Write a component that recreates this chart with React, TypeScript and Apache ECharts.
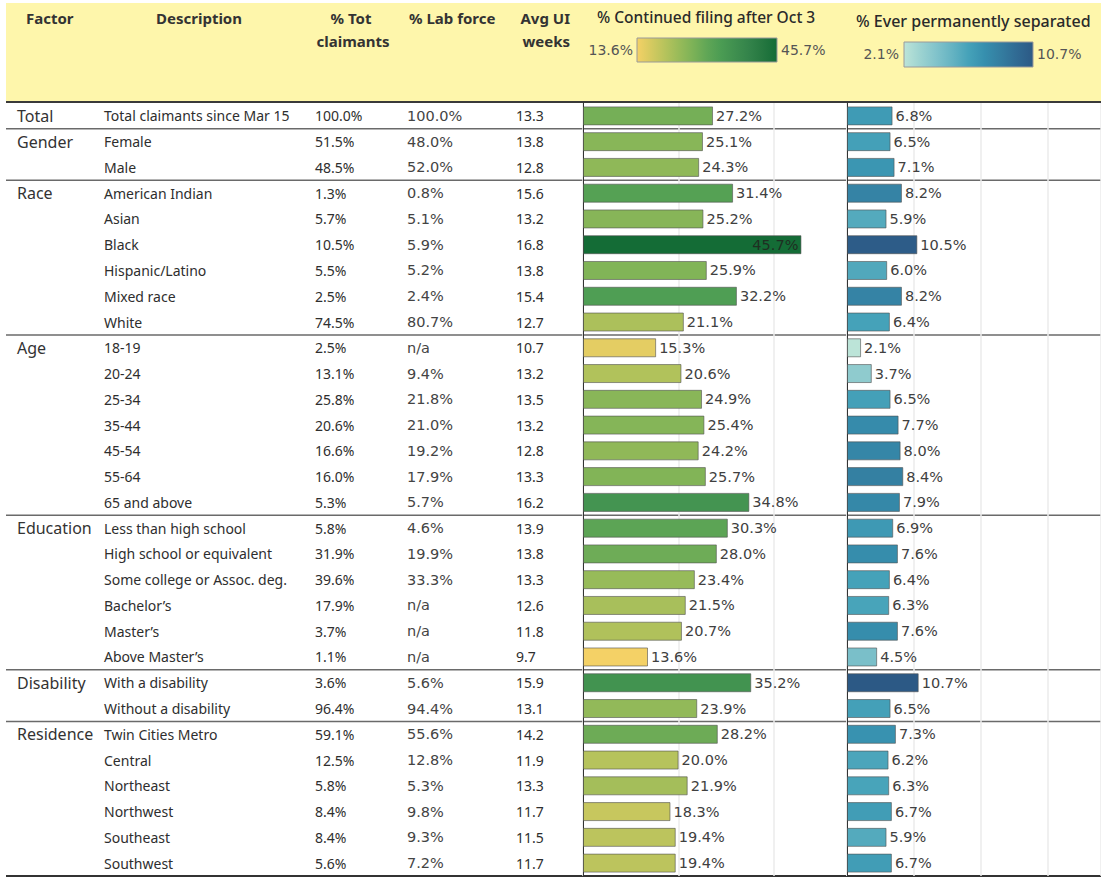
import React, { useEffect, useRef } from "react";
import * as echarts from "echarts";

const factors = ["Total", "Gender", "Race", "Age", "Education", "Disability", "Residence"];
const groupSizes = [1, 2, 6, 7, 6, 2, 6];
const descriptions = [
  "Total claimants since Mar 15",
  "Female", "Male",
  "American Indian", "Asian", "Black", "Hispanic/Latino", "Mixed race", "White",
  "18-19", "20-24", "25-34", "35-44", "45-54", "55-64", "65 and above",
  "Less than high school", "High school or equivalent", "Some college or Assoc. deg.", "Bachelor\u2019s", "Master\u2019s", "Above Master\u2019s",
  "With a disability", "Without a disability",
  "Twin Cities Metro", "Central", "Northeast", "Northwest", "Southeast", "Southwest",
];
const totClaimants = [100.0, 51.5, 48.5, 1.3, 5.7, 10.5, 5.5, 2.5, 74.5, 2.5, 13.1, 25.8, 20.6, 16.6, 16.0, 5.3, 5.8, 31.9, 39.6, 17.9, 3.7, 1.1, 3.6, 96.4, 59.1, 12.5, 5.8, 8.4, 8.4, 5.6];
const labForce = [100.0, 48.0, 52.0, 0.8, 5.1, 5.9, 5.2, 2.4, 80.7, null, 9.4, 21.8, 21.0, 19.2, 17.9, 5.7, 4.6, 19.9, 33.3, null, null, null, 5.6, 94.4, 55.6, 12.8, 5.3, 9.8, 9.3, 7.2];
const avgWeeks = [13.3, 13.8, 12.8, 15.6, 13.2, 16.8, 13.8, 15.4, 12.7, 10.7, 13.2, 13.5, 13.2, 12.8, 13.3, 16.2, 13.9, 13.8, 13.3, 12.6, 11.8, 9.7, 15.9, 13.1, 14.2, 11.9, 13.3, 11.7, 11.5, 11.7];
const continuedFiling = [27.2, 25.1, 24.3, 31.4, 25.2, 45.7, 25.9, 32.2, 21.1, 15.3, 20.6, 24.9, 25.4, 24.2, 25.7, 34.8, 30.3, 28.0, 23.4, 21.5, 20.7, 13.6, 35.2, 23.9, 28.2, 20.0, 21.9, 18.3, 19.4, 19.4];
const everSeparated = [6.8, 6.5, 7.1, 8.2, 5.9, 10.5, 6.0, 8.2, 6.4, 2.1, 3.7, 6.5, 7.7, 8.0, 8.4, 7.9, 6.9, 7.6, 6.4, 6.3, 7.6, 4.5, 10.7, 6.5, 7.3, 6.2, 6.3, 6.7, 5.9, 6.7];

const greenGold = ["#f4d166", "#d5ca60", "#b6c35c", "#98bb59", "#7cb257", "#60a656", "#4b9c53", "#3f8f4f", "#33834a", "#257740", "#146c36"];
const tealBlues = ["#bce4d8", "#9dd3d1", "#81c3cb", "#65b3c2", "#45a2b9", "#368fae", "#347da0", "#306a93", "#2c5985"];

const SANS = "'Noto Sans', 'Open Sans', sans-serif";
const WIDE = "'DejaVu Sans', sans-serif";

export default function App() {
  const ref = useRef<HTMLDivElement>(null);
  useEffect(() => {
    const chart = echarts.init(ref.current!, null, { renderer: "svg" });
    const W = 1101;
    const top = 103;
    const tableH = 773;
    const n = descriptions.length;
    const rowH = tableH / n;
    const rowY = (i: number) => top + (i + 0.5) * rowH;

    const gLeft = 583, gWidth = 264, gPx = 4.78;
    const bLeft = 847, bWidth = W - 847, bPx = 6.7;

    const cMin = Math.min(...continuedFiling), cMax = Math.max(...continuedFiling);
    const sMin = Math.min(...everSeparated), sMax = Math.max(...everSeparated);

    const g: any[] = [];
    g.push({ type: "rect", z: -10, shape: { x: 6, y: 3, width: W - 6, height: 99 }, style: { fill: "#fef6ab" } });
    const hdr = (text: string, x: number, y: number, align = "left") =>
      g.push({ type: "text", x, y, style: { text, fill: "#333", fontFamily: SANS, fontSize: 15, fontWeight: "bold", align, verticalAlign: "middle" } });
    hdr("Factor", 26, 18);
    hdr("Description", 156, 18);
    hdr("% Tot", 351, 18, "center");
    hdr("claimants", 353, 41, "center");
    hdr("% Lab force", 409, 18);
    hdr("Avg UI", 570, 18, "right");
    hdr("weeks", 570, 41, "right");
    g.push({ type: "text", x: 597, y: 17, style: { text: "% Continued filing after Oct 3", fill: "#2a2a2a", fontFamily: SANS, fontSize: 15.5, fontWeight: 500, align: "left", verticalAlign: "middle" } });
    g.push({ type: "text", x: 856, y: 21, style: { text: "% Ever permanently separated", fill: "#2a2a2a", fontFamily: SANS, fontSize: 16, fontWeight: 500, align: "left", verticalAlign: "middle" } });
    g.push({
      type: "rect", shape: { x: 637, y: 38, width: 140, height: 24 },
      style: { fill: new echarts.graphic.LinearGradient(0, 0, 1, 0, greenGold.map((c, i) => ({ offset: i / (greenGold.length - 1), color: c }))), stroke: "#9a9a9a", lineWidth: 1 },
    });
    g.push({
      type: "rect", shape: { x: 904, y: 42, width: 129, height: 25 },
      style: { fill: new echarts.graphic.LinearGradient(0, 0, 1, 0, tealBlues.map((c, i) => ({ offset: i / (tealBlues.length - 1), color: c }))), stroke: "#9a9a9a", lineWidth: 1 },
    });
    const leg = (text: string, x: number, y: number, align: string) =>
      g.push({ type: "text", x, y, style: { text, fill: "#555", fontFamily: WIDE, fontSize: 14, align, verticalAlign: "middle" } });
    leg(cMin.toFixed(1) + "%", 633, 50, "right");
    leg(cMax.toFixed(1) + "%", 781, 50, "left");
    leg(sMin.toFixed(1) + "%", 899, 54, "right");
    leg(sMax.toFixed(1) + "%", 1037, 54, "left");

    let start = 0;
    const boundaries: number[] = [];
    factors.forEach((f, gi) => {
      g.push({ type: "text", x: 17, y: rowY(start), style: { text: f, fill: "#333", fontFamily: SANS, fontSize: 16, align: "left", verticalAlign: "middle" } });
      start += groupSizes[gi];
      boundaries.push(top + start * rowH);
    });
    descriptions.forEach((d, i) => {
      const y = rowY(i);
      g.push({ type: "text", x: 104, y, style: { text: d, fill: "#2e2e2e", fontFamily: SANS, fontSize: 14, align: "left", verticalAlign: "middle" } });
      g.push({ type: "text", x: 315, y, style: { text: totClaimants[i].toFixed(1) + "%", fill: "#2e2e2e", fontFamily: SANS, fontSize: 14, align: "left", verticalAlign: "middle" } });
      const lf = labForce[i];
      g.push({ type: "text", x: 407, y, style: { text: lf == null ? "n/a" : lf.toFixed(1) + "%", fill: "#444", fontFamily: WIDE, fontSize: 14.5, align: "left", verticalAlign: "middle" } });
      g.push({ type: "text", x: 516, y, style: { text: avgWeeks[i].toFixed(1), fill: "#2e2e2e", fontFamily: SANS, fontSize: 14, align: "left", verticalAlign: "middle" } });
    });
    g.push({ type: "line", shape: { x1: 6, y1: top - 1, x2: W, y2: top - 1 }, style: { stroke: "#3a3a3a", lineWidth: 2 } });
    boundaries.forEach((b, i) => {
      const last = i === boundaries.length - 1;
      g.push({ type: "line", shape: { x1: 6, y1: b, x2: W, y2: b }, style: { stroke: last ? "#333" : "#6a6a6a", lineWidth: last ? 2 : 1.5 } });
    });

    const barLabel = (axisMaxVal: number) => (v: number) => ({
      value: v,
      label: v > axisMaxVal * 0.8 ? { position: "insideRight", color: "#1f2f22", distance: 3 } : undefined,
    });

    chart.setOption({
      animation: false,
      grid: [
        { left: gLeft, top, width: gWidth, height: tableH },
        { left: bLeft, top, width: bWidth, height: tableH },
      ],
      xAxis: [
        { gridIndex: 0, type: "value", min: 0, max: gWidth / gPx, interval: 20, axisLabel: { show: false }, axisTick: { show: false }, axisLine: { show: false }, splitLine: { lineStyle: { color: "#ebebeb", width: 1.5 } } },
        { gridIndex: 1, type: "value", min: 0, max: bWidth / bPx, interval: 10, axisLabel: { show: false }, axisTick: { show: false }, axisLine: { show: false }, splitLine: { lineStyle: { color: "#ebebeb", width: 1.5 } } },
      ],
      yAxis: [
        { gridIndex: 0, type: "category", data: descriptions, inverse: true, axisLabel: { show: false }, axisTick: { show: false }, axisLine: { show: true, lineStyle: { color: "#333", width: 1 } } },
        { gridIndex: 1, type: "category", data: descriptions, inverse: true, axisLabel: { show: false }, axisTick: { show: false }, axisLine: { show: true, lineStyle: { color: "#333", width: 1 } } },
      ],
      visualMap: [
        { type: "continuous", show: false, seriesIndex: 0, dimension: 0, min: cMin, max: cMax, inRange: { color: greenGold } },
        { type: "continuous", show: false, seriesIndex: 1, dimension: 0, min: sMin, max: sMax, inRange: { color: tealBlues } },
      ],
      series: [
        {
          type: "bar", xAxisIndex: 0, yAxisIndex: 0, barWidth: 19,
          data: continuedFiling.map(barLabel(gWidth / gPx)),
          itemStyle: { borderColor: "rgba(80,80,80,0.6)", borderWidth: 1 },
          label: { show: true, position: "right", distance: 3, color: "#404040", fontFamily: WIDE, fontSize: 14.5, formatter: (p: any) => p.value.toFixed(1) + "%" },
        },
        {
          type: "bar", xAxisIndex: 1, yAxisIndex: 1, barWidth: 19,
          data: everSeparated.map(barLabel(bWidth / bPx)),
          itemStyle: { borderColor: "rgba(80,80,80,0.6)", borderWidth: 1 },
          label: { show: true, position: "right", distance: 3, color: "#404040", fontFamily: WIDE, fontSize: 14.5, formatter: (p: any) => p.value.toFixed(1) + "%" },
        },
      ],
      graphic: g,
    });
    return () => chart.dispose();
  }, []);
  return <div ref={ref} style={{ position: "fixed", left: 0, top: 0, width: 1101, height: 877, background: "#fff" }} />;
}
